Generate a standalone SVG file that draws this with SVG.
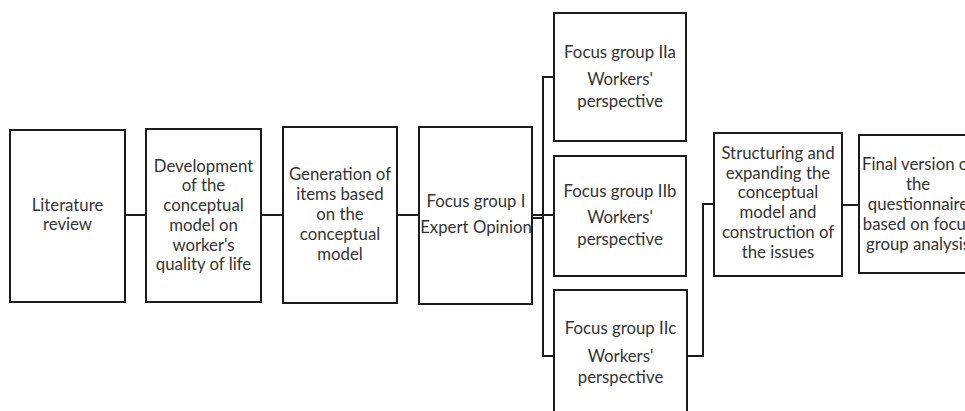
<svg xmlns="http://www.w3.org/2000/svg" width="965" height="411" viewBox="0 0 965 411">
<style>
.box{fill:#fff;stroke:#1a1a1a;stroke-width:2}
.c{fill:none;stroke:#1a1a1a;stroke-width:2}
text{font-family:Lato,"Liberation Sans",sans-serif;font-size:16.8px;fill:#333;text-anchor:middle}
</style>
<rect width="965" height="411" fill="#fff"/>
<g id="connectors">
<path class="c" d="M125 215H146"/>
<path class="c" d="M261 215H283"/>
<path class="c" d="M397 215H419"/>
<path class="c" d="M532 215H554"/>
<path class="c" d="M532 218H543"/>
<path class="c" d="M554 77H543V356H554"/>
<path class="c" d="M687 356H703V204H714"/>
<path class="c" d="M842 205H859"/>
</g>
<g id="n1">
<rect class="box" x="10" y="130" width="115" height="172"/>
<text x="67.5" y="211">Literature</text>
<text x="67.5" y="230">review</text>
</g>
<g id="n2">
<rect class="box" x="146" y="129" width="115" height="173"/>
<text x="203.5" y="172">Development</text>
<text x="203.5" y="191">of the</text>
<text x="203.5" y="211">conceptual</text>
<text x="203.5" y="231">model on</text>
<text x="203.5" y="251">worker's</text>
<text x="203.5" y="270">quality of life</text>
</g>
<g id="n3">
<rect class="box" x="283" y="127" width="114" height="176"/>
<text x="340" y="180">Generation of</text>
<text x="340" y="200">items based</text>
<text x="340" y="220">on the</text>
<text x="340" y="240">conceptual</text>
<text x="340" y="260">model</text>
</g>
<g id="n4">
<rect class="box" x="419" y="127" width="113" height="177"/>
<text x="476" y="207">Focus group I</text>
<text x="476" y="233">Expert Opinion</text>
</g>
<g id="n5">
<rect class="box" x="554" y="13" width="132" height="128"/>
<text x="620" y="58">Focus group IIa</text>
<text x="620" y="85">Workers'</text>
<text x="620" y="107">perspective</text>
</g>
<g id="n6">
<rect class="box" x="554" y="156" width="132" height="120"/>
<text x="620" y="197">Focus group IIb</text>
<text x="620" y="223">Workers'</text>
<text x="620" y="245">perspective</text>
</g>
<g id="n7">
<rect class="box" x="554" y="290" width="133" height="130"/>
<text x="620.5" y="334">Focus group IIc</text>
<text x="620.5" y="362">Workers'</text>
<text x="620.5" y="383">perspective</text>
</g>
<g id="n8">
<rect class="box" x="714" y="133" width="128" height="143"/>
<text x="778" y="159">Structuring and</text>
<text x="778" y="178.5">expanding the</text>
<text x="778" y="198">conceptual</text>
<text x="778" y="218">model and</text>
<text x="778" y="238">construction of</text>
<text x="778" y="258">the issues</text>
</g>
<g id="n9">
<rect class="box" x="859" y="135" width="118" height="138"/>
<text x="918" y="170">Final version of</text>
<text x="918" y="190">the</text>
<text x="918" y="210">questionnaire</text>
<text x="918" y="230">based on focus</text>
<text x="918" y="249.5">group analysis</text>
</g>
</svg>
